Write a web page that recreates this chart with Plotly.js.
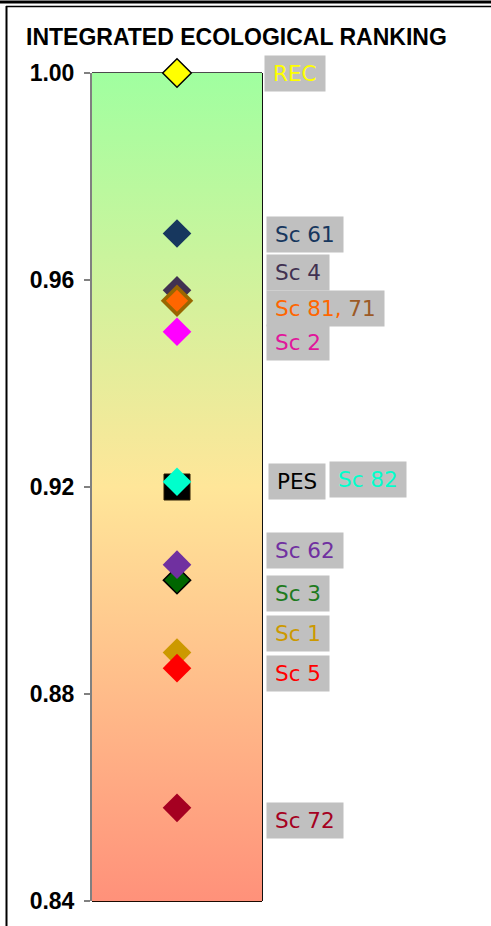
<!DOCTYPE html>
<html>
<head>
<meta charset="utf-8">
<script src="https://cdn.plot.ly/plotly-3.0.1.min.js"></script>
<style>
  html, body { margin: 0; padding: 0; background: #ffffff; }
  #chart { width: 491px; height: 926px; }
</style>
</head>
<body>
<div id="chart"></div>
<script>
// ---- data ----
var scenarios = ['REC', 'Sc 61', 'Sc 4', 'Sc 71', 'Sc 81', 'Sc 2', 'PES', 'Sc 82', 'Sc 3', 'Sc 62', 'Sc 1', 'Sc 5', 'Sc 72'];
var ranking   = [1.000, 0.969, 0.958, 0.956, 0.956, 0.950, 0.920, 0.921, 0.902, 0.905, 0.888, 0.885, 0.858];
var tickValues = [0.84, 0.88, 0.92, 0.96, 1.00];
var axisRange = [0.84, 1.00];
var chartTitle = 'INTEGRATED ECOLOGICAL RANKING';

// ---- styles ----
var markerColors = ['#FFFF00', '#17375E', '#403151', '#996600', '#FF6600', '#FF00FF', '#000000', '#00FFCC', '#006600', '#7030A0', '#CC9900', '#FF0000', '#A50021'];
var markerSymbols = ['diamond', 'diamond', 'diamond', 'diamond', 'diamond', 'diamond', 'square', 'diamond', 'diamond', 'diamond', 'diamond', 'diamond', 'diamond'];
var markerSizes = [22, 22, 22, 25, 17, 22, 26, 22, 21, 22, 22, 22, 22];
var markerLineColors = ['#000000', '#17375E', '#403151', '#996600', '#FF6600', '#FF00FF', '#2b1a00', '#00FFCC', '#000000', '#7030A0', '#CC9900', '#FF0000', '#A50021'];
var markerLineWidths = [1.5, 0, 0, 0, 0, 0, 1, 0, 1.5, 0, 0, 0, 0];

// label: which scenario it belongs to, text, colour, box left (px), vertical shift (px)
var labelFor   = ['REC', 'Sc 61', 'Sc 4', 'Sc 81', 'Sc 2', 'PES', 'Sc 82', 'Sc 62', 'Sc 3', 'Sc 1', 'Sc 5', 'Sc 72'];
var labelText  = ['REC', 'Sc 61', 'Sc 4', '<span style="color:#FF6600">Sc 81,</span> <span style="color:#9C5A26">71</span>', 'Sc 2', 'PES', 'Sc 82', 'Sc 62', 'Sc 3', 'Sc 1', 'Sc 5', 'Sc 72'];
var labelPlain = ['REC', 'Sc 61', 'Sc 4', 'Sc 81, 71', 'Sc 2', 'PES', 'Sc 82', 'Sc 62', 'Sc 3', 'Sc 1', 'Sc 5', 'Sc 72'];
var labelColor = ['#FFFF00', '#17375E', '#403151', '#FF6600', '#E0179B', '#000000', '#00FFCC', '#7030A0', '#1E7B1E', '#CC9900', '#FF0000', '#A50021'];
var labelLeft  = [264, 266, 266, 266, 266, 268, 329, 266, 266, 266, 266, 266];
var labelShift = [0, -1, 18, -7.5, -10.5, 6, 2, 14.5, -13.5, 19.5, -5, -12.5];

// ---- geometry ----
var W = 491, H = 926;
var M = { l: 92, r: 229, t: 73, b: 25 };
var plotW = W - M.l - M.r, plotH = H - M.t - M.b;
function px2x(px) { return (px - M.l) / plotW; }
function px2y(py) { return (H - M.b - py) / plotH; }

var labelFont = "21.5px 'DejaVu Sans'";
var cv = document.createElement('canvas').getContext('2d');
cv.font = labelFont;

var traces = [
  {
    type: 'scatter',
    x: [0, 1, 1, 0],
    y: [axisRange[0], axisRange[0], axisRange[1], axisRange[1]],
    fill: 'toself',
    mode: 'none',
    fillgradient: {
      type: 'vertical',
      colorscale: [[0, '#FF917A'], [0.5, '#FFE699'], [1, '#A0FFA0']]
    },
    hoverinfo: 'skip',
    showlegend: false
  },
  {
    type: 'scatter',
    mode: 'markers',
    x: scenarios.map(function () { return 0.5; }),
    y: ranking,
    text: scenarios,
    cliponaxis: false,
    marker: {
      symbol: markerSymbols,
      size: markerSizes,
      color: markerColors,
      opacity: 1,
      line: { color: markerLineColors, width: markerLineWidths }
    },
    hovertemplate: '%{text}: %{y:.3f}<extra></extra>',
    showlegend: false
  }
];

var annotations = labelFor.map(function (name, i) {
  var idx = scenarios.indexOf(name);
  var tw = cv.measureText(labelPlain[i]).width;
  return {
    xref: 'paper', yref: 'y',
    x: px2x(labelLeft[i]), y: ranking[idx],
    xanchor: 'left', yanchor: 'middle',
    yshift: labelShift[i],
    text: labelText[i],
    showarrow: false,
    bgcolor: '#C0C0C0',
    borderpad: 4,
    borderwidth: 1,
    bordercolor: 'rgba(0,0,0,0)',
    width: tw + 8,
    height: 27,
    align: 'center',
    font: { family: 'DejaVu Sans', size: 21.5, color: labelColor[i] }
  };
});

var shapes = [
  // outer frame
  { type: 'line', xref: 'paper', yref: 'paper', x0: px2x(0), x1: px2x(W), y0: px2y(2), y1: px2y(2), line: { color: '#000', width: 3 } },
  { type: 'line', xref: 'paper', yref: 'paper', x0: px2x(6), x1: px2x(W), y0: px2y(6.5), y1: px2y(6.5), line: { color: '#000', width: 1.5 } },
  { type: 'line', xref: 'paper', yref: 'paper', x0: px2x(6.5), x1: px2x(6.5), y0: px2y(6), y1: px2y(H), line: { color: '#000', width: 2 } },
  // plot border (top, right, bottom)
  { type: 'line', xref: 'paper', yref: 'paper', x0: 0, x1: 1, y0: 1, y1: 1, line: { color: '#111', width: 1.5 }, layer: 'below' },
  { type: 'line', xref: 'paper', yref: 'paper', x0: 1, x1: 1, y0: 0, y1: 1, line: { color: '#111', width: 2 }, layer: 'below' },
  { type: 'line', xref: 'paper', yref: 'paper', x0: 0, x1: 1, y0: 0, y1: 0, line: { color: '#1a0a00', width: 2 }, layer: 'below' }
];

var layout = {
  width: W, height: H,
  margin: M,
  paper_bgcolor: '#ffffff',
  plot_bgcolor: 'rgba(0,0,0,0)',
  showlegend: false,
  title: {
    text: chartTitle,
    xref: 'container', yref: 'container',
    x: 26 / W, xanchor: 'left',
    y: 1 - 37 / H, yanchor: 'middle',
    font: { family: 'Liberation Sans', size: 23, weight: 'bold', color: '#000' }
  },
  xaxis: { range: [0, 1], visible: false, fixedrange: true },
  yaxis: {
    range: axisRange,
    tickvals: tickValues,
    tickformat: '.2f',
    ticks: 'outside', ticklen: 6, tickwidth: 1.5, tickcolor: '#808080',
    showline: true, linecolor: '#808080', linewidth: 2,
    showgrid: false, zeroline: false,
    ticklabelstandoff: 5,
    tickfont: { family: 'Liberation Sans', size: 23, weight: 'bold', color: '#000' },
    fixedrange: true
  },
  shapes: shapes,
  annotations: annotations
};

Plotly.newPlot('chart', traces, layout, { displayModeBar: false, staticPlot: true });
</script>
</body>
</html>
